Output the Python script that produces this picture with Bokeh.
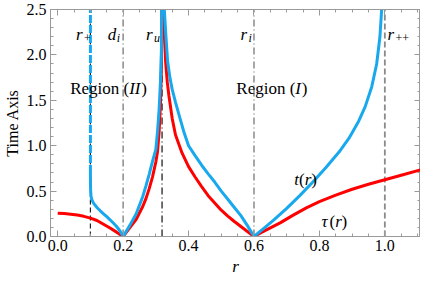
from bokeh.plotting import figure
from bokeh.models import (LinearAxis, SingleIntervalTicker, NumeralTickFormatter,
                          Range1d, CustomJSTickFormatter)
from bokeh.core.properties import value
from bokeh.embed import file_html
from bokeh.resources import INLINE

# ---------------- data ----------------
# tau(r), red
tau_r_a = [0.0, 0.02, 0.04, 0.06, 0.08, 0.10, 0.12, 0.14, 0.16, 0.18, 0.20]
tau_y_a = [0.255, 0.252, 0.246, 0.236, 0.222, 0.202, 0.176, 0.135, 0.093, 0.048, 0.0]
tau_r_b = [0.20, 0.22, 0.24, 0.26, 0.27, 0.28, 0.29, 0.30, 0.305, 0.31, 0.314, 0.317, 0.3185]
tau_y_b = [0.0, 0.095, 0.19, 0.33, 0.42, 0.53, 0.66, 0.82, 0.93, 1.15, 1.45, 1.85, 2.7]
tau_r_c = [0.3195, 0.322, 0.325, 0.33, 0.335, 0.34, 0.35, 0.36, 0.38, 0.40, 0.42, 0.44,
           0.46, 0.48, 0.50, 0.52, 0.54, 0.56, 0.58, 0.60]
tau_y_c = [2.9, 2.6, 2.3, 1.92, 1.7, 1.55, 1.30, 1.12, 0.92, 0.77, 0.655, 0.55,
           0.45, 0.37, 0.29, 0.225, 0.165, 0.11, 0.055, 0.0]
tau_r_d = [0.60, 0.62, 0.65, 0.68, 0.72, 0.76, 0.80, 0.85, 0.90, 0.95, 1.00, 1.05, 1.11]
tau_y_d = [0.0, 0.04, 0.095, 0.15, 0.235, 0.315, 0.385, 0.455, 0.52, 0.575, 0.625, 0.675, 0.735]

# t(r), blue
t_r_a = [0.1, 0.1005, 0.102, 0.105, 0.11, 0.12, 0.13, 0.14, 0.15, 0.16, 0.17, 0.18, 0.19, 0.20]
t_y_a = [0.70, 0.52, 0.44, 0.40, 0.365, 0.32, 0.283, 0.25, 0.218, 0.184, 0.148, 0.11, 0.063, 0.0]
t_r_asym = [0.1, 0.1]
t_y_asym = [0.70, 2.5]
t_r_b = [0.20, 0.22, 0.24, 0.26, 0.27, 0.28, 0.29, 0.30, 0.305, 0.31, 0.314, 0.317, 0.3185]
t_y_b = [0.0, 0.12, 0.25, 0.44, 0.56, 0.69, 0.83, 0.96, 1.15, 1.40, 1.7, 2.05, 2.8]
t_r_c = [0.3195, 0.322, 0.326, 0.33, 0.336, 0.343, 0.35, 0.36, 0.37, 0.385, 0.40, 0.42,
         0.44, 0.46, 0.48, 0.50, 0.52, 0.54, 0.56, 0.58, 0.60]
t_y_c = [3.0, 2.8, 2.5, 2.25, 1.93, 1.75, 1.62, 1.48, 1.35, 1.16, 1.0, 0.89,
         0.785, 0.69, 0.6, 0.5, 0.41, 0.32, 0.23, 0.12, 0.0]
t_r_d = [0.60, 0.63, 0.66, 0.70, 0.74, 0.78, 0.82, 0.86, 0.89, 0.92, 0.94, 0.96,
         0.975, 0.985, 0.992, 0.997]
t_y_d = [0.0, 0.09, 0.18, 0.31, 0.45, 0.60, 0.76, 0.93, 1.08, 1.27, 1.43, 1.65,
         1.9, 2.2, 2.6, 3.0]

# characteristic radii (vertical lines)
r_plus = 0.1
d_i = 0.2
r_u = 0.319
r_i = 0.6
r_pp = 1.0

x_tick_step = 0.2
y_tick_step = 0.5

# ---------------- figure ----------------
SERIF = "Liberation Serif"
RED = "#FF0000"
BLUE = "#18A8EE"
FRAME = "#9a9a9a"

p = figure(width=420, height=282, x_range=Range1d(-0.022, 1.109), y_range=Range1d(0, 2.5),
           output_backend="svg", toolbar_location=None, x_axis_type=None, y_axis_type=None,
           min_border_left=40, min_border_right=0, min_border_top=9, min_border_bottom=46)
p.outline_line_color = FRAME
p.background_fill_color = "white"
p.border_fill_color = "white"


def style_axis(ax, labels=True):
    ax.axis_line_color = FRAME
    ax.major_tick_line_color = FRAME
    ax.minor_tick_line_color = FRAME
    ax.major_tick_in = 6
    ax.major_tick_out = 0
    ax.minor_tick_in = 3
    ax.minor_tick_out = 0
    ax.major_label_text_font = SERIF
    ax.major_label_text_color = "black"
    if labels:
        ax.major_label_text_font_size = "16px"
        ax.major_label_standoff = 4
    else:
        ax.major_label_text_font_size = "0px"
        ax.major_label_standoff = 0
        ax.formatter = CustomJSTickFormatter(code="return ''")


xb = LinearAxis(ticker=SingleIntervalTicker(interval=x_tick_step, num_minor_ticks=4),
                formatter=NumeralTickFormatter(format="0.0"), axis_label="r")
style_axis(xb)
xb.major_label_standoff = 3
xb.axis_label_text_font = SERIF
xb.axis_label_text_font_size = "17px"
xb.axis_label_text_font_style = "italic"
xb.axis_label_text_color = "black"
xb.axis_label_standoff = 3
p.add_layout(xb, "below")

yl = LinearAxis(ticker=SingleIntervalTicker(interval=y_tick_step, num_minor_ticks=5),
                formatter=NumeralTickFormatter(format="0.0"), axis_label="Time Axis")
style_axis(yl)
yl.axis_label_text_font = SERIF
yl.axis_label_text_font_size = "16px"
yl.axis_label_text_font_style = "normal"
yl.axis_label_text_color = "black"
yl.axis_label_standoff = 3
p.add_layout(yl, "left")

xt = LinearAxis(ticker=SingleIntervalTicker(interval=x_tick_step, num_minor_ticks=4))
style_axis(xt, labels=False)
p.add_layout(xt, "above")

yr = LinearAxis(ticker=SingleIntervalTicker(interval=y_tick_step, num_minor_ticks=5))
style_axis(yr, labels=False)
p.add_layout(yr, "right")

# vertical reference lines
ytop = 2.5
p.segment(x0=[r_plus], y0=[0], x1=[r_plus], y1=[ytop], line_color="#222222",
          line_width=1.2, line_dash="5 3")
p.segment(x0=[d_i], y0=[0], x1=[d_i], y1=[ytop], line_color="#8a8a8a",
          line_width=1.5, line_dash="7 3 1 3")
p.segment(x0=[r_u], y0=[0], x1=[r_u], y1=[ytop], line_color="#222222",
          line_width=1.3, line_dash="7 3 1 3")
p.segment(x0=[r_i], y0=[0], x1=[r_i], y1=[ytop], line_color="#8a8a8a",
          line_width=1.5, line_dash="7 3 1 3")
p.segment(x0=[r_pp], y0=[0], x1=[r_pp], y1=[ytop], line_color="#8a8a8a",
          line_width=1.8, line_dash="6 3")

# curves
for xs, ys in [(tau_r_a, tau_y_a), (tau_r_b, tau_y_b), (tau_r_c, tau_y_c), (tau_r_d, tau_y_d)]:
    p.line(xs, ys, line_color=RED, line_width=3)
for xs, ys in [(t_r_a, t_y_a), (t_r_b, t_y_b), (t_r_c, t_y_c), (t_r_d, t_y_d)]:
    p.line(xs, ys, line_color=BLUE, line_width=3)
p.line(t_r_asym, t_y_asym, line_color=BLUE, line_width=3, line_dash="8 2")

# text annotations: (x, y, x_offset, y_offset, text, size, style)
labels = [
    (0.056, 2.23, 0, 0, "r", "17px", "italic"),
    (0.056, 2.23, 8, 4, "+", "12px", "normal"),
    (0.153, 2.23, 0, 0, "d", "17px", "italic"),
    (0.153, 2.23, 9, 4, "i", "12px", "italic"),
    (0.270, 2.23, 0, 0, "r", "17px", "italic"),
    (0.270, 2.23, 8, 4, "u", "12px", "italic"),
    (0.559, 2.23, 0, 0, "r", "17px", "italic"),
    (0.559, 2.23, 8, 4, "i", "12px", "italic"),
    (1.008, 2.23, 0, 0, "r", "17px", "italic"),
    (1.008, 2.23, 8, 4, "++", "12px", "normal"),
    (0.038, 1.632, 0, 0, "Region (", "17px", "normal"),
    (0.038, 1.632, 59, 0, "II", "17px", "italic"),
    (0.038, 1.632, 71, 0, ")", "17px", "normal"),
    (0.546, 1.632, 0, 0, "Region (", "17px", "normal"),
    (0.546, 1.632, 59, 0, "I", "17px", "italic"),
    (0.546, 1.632, 65.5, 0, ")", "17px", "normal"),
    (0.723, 0.625, 0, 0, "t", "17px", "italic"),
    (0.723, 0.625, 4.8, 0, "(", "17px", "normal"),
    (0.723, 0.625, 10.6, 0, "r", "17px", "italic"),
    (0.723, 0.625, 17.0, 0, ")", "17px", "normal"),
    (0.806, 0.167, 0, 0, "\u03c4", "17px", "italic"),
    (0.806, 0.167, 8.0, 0, "(", "17px", "normal"),
    (0.806, 0.167, 13.8, 0, "r", "17px", "italic"),
    (0.806, 0.167, 20.2, 0, ")", "17px", "normal"),
]
for (lx, ly, xo, yo, txt, sz, st) in labels:
    p.text(x=[lx], y=[ly], text=[txt], x_offset=xo, y_offset=yo,
           text_font=value(SERIF), text_font_size=sz, text_font_style=st,
           text_color="black", text_align="left", text_baseline="alphabetic")

open("out.html", "w").write(file_html(p, INLINE))
